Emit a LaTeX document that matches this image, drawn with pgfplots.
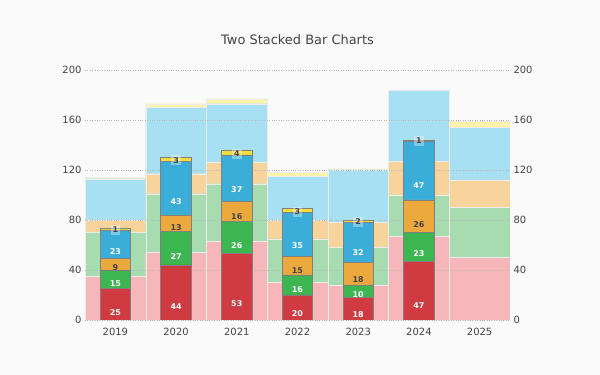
\documentclass[border=0pt]{standalone}
\usepackage{pgfplots}
\usepackage{pgfplotstable}
\pgfplotsset{compat=1.18}
\usepackage{fontspec}
\setmainfont{DejaVu Sans}
\definecolor{bg}{HTML}{FAFAFA}
\definecolor{txt}{HTML}{444444}
\definecolor{cR}{HTML}{CF3B40}
\definecolor{cG}{HTML}{3CB650}
\definecolor{cO}{HTML}{EBA83D}
\definecolor{cB}{HTML}{3AAED9}
\definecolor{cY}{HTML}{F6DD3B}
\definecolor{lR}{HTML}{F7B6B9}
\definecolor{lG}{HTML}{A7DCB0}
\definecolor{lO}{HTML}{F6D49B}
\definecolor{lB}{HTML}{A6E0F2}
\definecolor{lY}{HTML}{FEF3A8}
\pgfplotstableread{
x r g o b y
0 35 35 10 33 1
1 54 47 16 53 3
2 63 46 17 47 4
3 30 35 15 35 3
4 28 30 20 42 1
5 67 33 27 57 0
6 50 40 22 42 5
}\back
\pgfplotstableread{
x r g o b y
0 25 15 9 23 1
1 44 27 13 43 3
2 53 26 16 37 4
3 20 16 15 35 3
4 18 10 18 32 2
5 47 23 26 47 1
}\front
\pgfplotsset{
  base/.style={
    scale only axis, width=425bp, height=250bp,
    xmin=-0.5, xmax=6.5, ymin=0, ymax=200,
    ybar stacked, axis line style={draw=none},
    major tick length=0pt,
    ytick={0,40,...,200},
    tick label style={font=\fontsize{10}{12}\selectfont, text=txt},
    /pgf/number format/assume math mode=true,
  },
}
\begin{document}
\begin{tikzpicture}
\fill[bg] (-85bp,-55bp) rectangle (515bp,320bp);
\useasboundingbox (-85bp,-55bp) rectangle (515bp,320bp);
\begin{axis}[base,
  axis on top,
  bar width=1,
  ymajorgrids, grid style={dotted, draw=black!28, line width=0.8pt},
  xtick={0,...,6}, xticklabels={2019,2020,2021,2022,2023,2024,2025},
  yticklabel pos=left,
  xticklabel style={yshift=-5bp},
  every axis plot/.append style={draw=white!85!gray, line width=0.4pt},
]
\addplot[fill=lR] table[x=x,y=r]{\back};
\addplot[fill=lG] table[x=x,y=g]{\back};
\addplot[fill=lO] table[x=x,y=o]{\back};
\addplot[fill=lB] table[x=x,y=b]{\back};
\addplot[fill=lY] table[x=x,y=y]{\back};
\end{axis}
\begin{axis}[base,
  bar width=0.5,
  xtick=\empty,
  yticklabel pos=right,
  title={Two Stacked Bar Charts},
  title style={at={(0.5,1.096)}, anchor=center, font=\fontsize{13}{15}\selectfont, text=txt},
  every axis plot/.append style={draw=black!50, line width=0.8pt},
  nodes near coords,
  visualization depends on=rawy\as\rawy,
  every node near coord/.style={shift={(axis direction cs:0,-\rawy/4)}, anchor=center, font=\fontsize{8}{9}\selectfont\bfseries, text=white, inner sep=2bp},
]
\addplot[fill=cR] table[x=x,y=r]{\front};
\addplot[fill=cG] table[x=x,y=g]{\front};
\addplot[fill=cO, every node near coord/.append style={text=txt}] table[x=x,y=o]{\front};
\addplot[fill=cB] table[x=x,y=b]{\front};
\addplot[fill=cY, every node near coord/.append style={text=txt, fill=white, fill opacity=0.35, text opacity=1}] table[x=x,y=y]{\front};
\end{axis}
\end{tikzpicture}
\end{document}
